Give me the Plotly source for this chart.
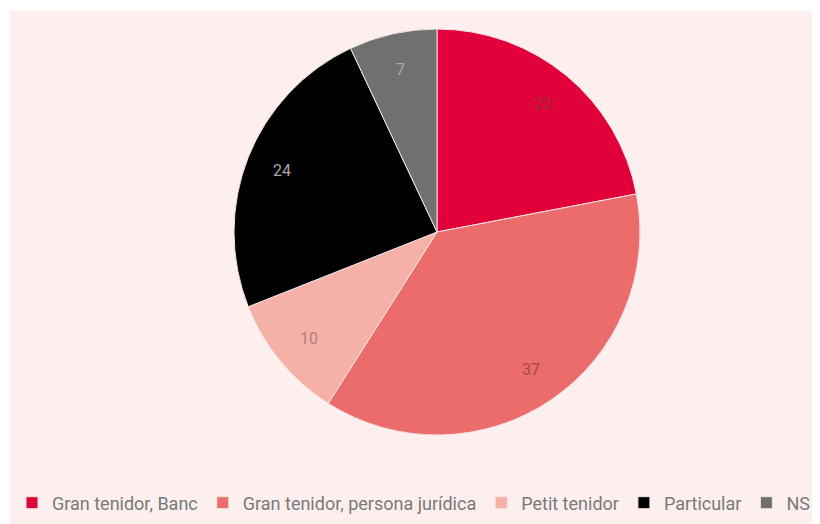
import math
import plotly.graph_objects as go

labels = ["Gran tenidor, Banc", "Gran tenidor, persona jurídica", "Petit tenidor", "Particular", "NS"]
values = [22, 37, 10, 24, 7]
colors = ["#e2003a", "#ec6b6b", "#f5b0a8", "#000000", "#707070"]
label_colors = ["#9b2f45", "#a84a4a", "#b47f7b", "#a8a8a8", "#a8a8a8"]

# page body has an 8px margin: figure is 812x516 placed at (8,8)
W, H = 812, 516
OFF = 8
cx, cy, R = 437 - OFF, 232 - OFF, 203

fig = go.Figure()
fig.add_trace(go.Pie(
    labels=labels, values=values, sort=False, direction="clockwise", rotation=0,
    marker=dict(colors=colors, line=dict(color="#f3e3e3", width=1)),
    textinfo="none", hoverinfo="label+value",
    domain=dict(x=[(cx - R) / W, (cx + R) / W], y=[1 - (cy + R) / H, 1 - (cy - R) / H]),
))

total = sum(values)
cum = 0
annotations = []
for v, lc in zip(values, label_colors):
    mid = (cum + v / 2) / total * 2 * math.pi
    cum += v
    px = cx + 0.82 * R * math.sin(mid)
    py = cy - 0.82 * R * math.cos(mid)
    annotations.append(dict(x=px / W, y=1 - py / H, xref="paper", yref="paper",
                            xanchor="center", yanchor="middle",
                            text=str(v), showarrow=False,
                            font=dict(family="Roboto", size=16, color=lc)))

fig.update_layout(
    width=W, height=H,
    margin=dict(l=0, r=0, t=0, b=0, autoexpand=False),
    paper_bgcolor="#ffffff", plot_bgcolor="rgba(0,0,0,0)",
    shapes=[dict(type="rect", xref="paper", yref="paper", x0=(10 - OFF) / W, x1=1, y0=0,
                 y1=1 - (11 - OFF) / H,
                 fillcolor="#fcefee", line=dict(width=0), layer="below")],
    annotations=annotations,
    showlegend=True,
    legend=dict(orientation="h", x=0.5, xanchor="center", y=1 - (503 - OFF) / H,
                yanchor="middle",
                font=dict(family="Roboto", size=18, color="#7a7a7a"),
                bgcolor="rgba(0,0,0,0)", itemclick=False),
)

fig.write_html("out.html")
